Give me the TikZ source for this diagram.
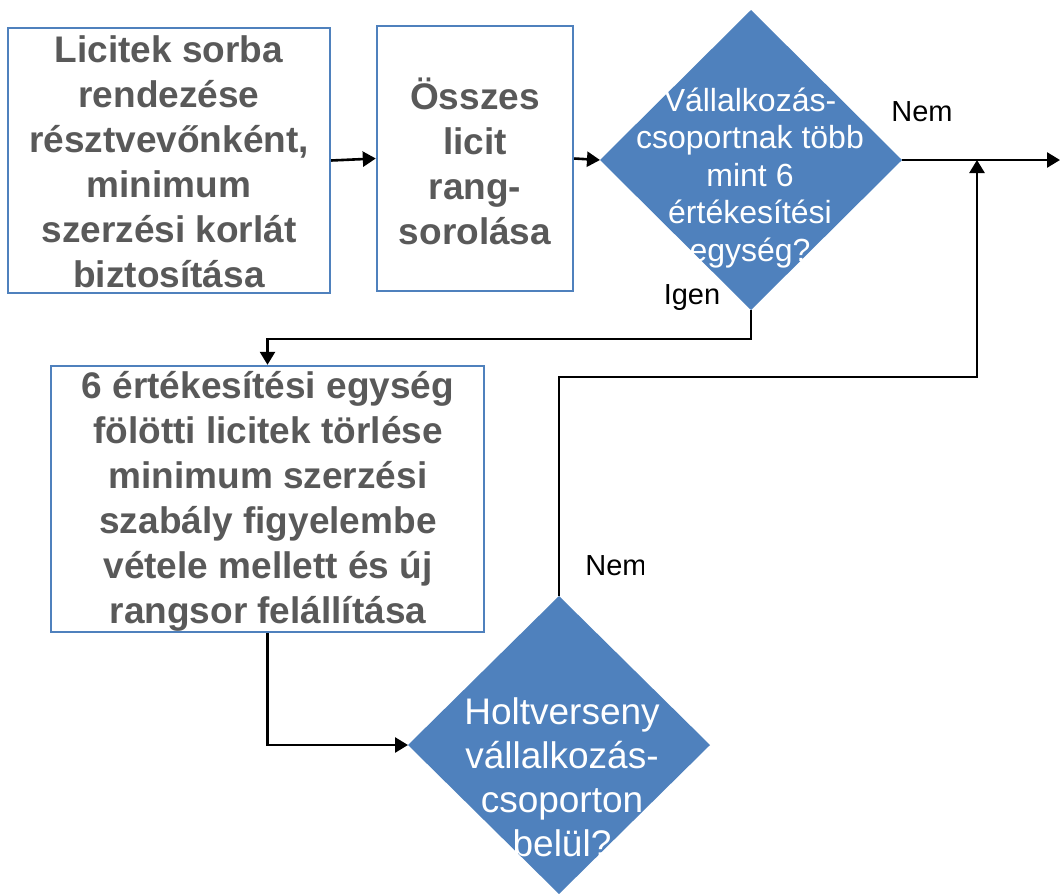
\documentclass[tikz,border=0pt]{standalone}
\usepackage{fontspec}
\setmainfont{Liberation Sans}
\usetikzlibrary{shapes.geometric,arrows.meta}
\definecolor{ablue}{HTML}{4F81BD}
\definecolor{agray}{HTML}{595959}
\begin{document}
\begin{tikzpicture}[x=1pt,y=-1pt,
  box/.style={draw=ablue, line width=2.4pt, rectangle, inner sep=0pt, fill=white},
  btext/.style={align=center, text=agray, inner sep=0pt, font=\fontsize{37}{45}\selectfont\bfseries},
  dia/.style={diamond, fill=ablue, draw=none, inner sep=0pt, outer sep=0pt},
  dtext/.style={align=center, text=white, inner sep=0pt},
  lbl/.style={inner sep=0pt, text=black, font=\fontsize{29}{34}\selectfont},
  conn/.style={draw=black, line width=2.6pt, -{Triangle[length=13pt,width=15pt]}}]
\useasboundingbox (0,0) rectangle (1060,894);
% boxes
\node[box, minimum width=322pt, minimum height=265pt] (b1) at (169,160.5) {};
\node[btext] (b1t) at (169,162) {Licitek sorba\\rendezése\\résztvevőnként,\\minimum\\szerzési korlát\\biztosítása};
\node[box, minimum width=196pt, minimum height=265pt] (b2) at (475,158.5) {};
\node[btext] (b2t) at (475,161) {Összes\\licit\\rang-\\sorolása};
\node[box, minimum width=433pt, minimum height=266pt] (b3) at (267.5,499) {};
\node[btext] (b3t) at (268,501) {6 értékesítési egység\\fölötti licitek törlése\\minimum szerzési\\szabály figyelembe\\vétele mellett és új\\rangsor felállítása};
% diamonds
\node[dia, minimum width=302pt, minimum height=300pt] (d1) at (751,160) {};
\node[dtext, font=\fontsize{32}{37.5}\selectfont] (d1t) at (750,178) {Vállalkozás-\\csoportnak több\\mint 6\\értékesítési\\egység?};
\node[dia, minimum width=302pt, minimum height=298pt] (d2) at (559,745) {};
\node[dtext, font=\fontsize{37}{44}\selectfont] (d2t) at (562,777) {Holtverseny\\vállalkozás-\\csoporton\\belül?};
% labels
\node[lbl] (nem1) at (922,112) {Nem};
\node[lbl] (igen) at (692,298) {Igen};
\begin{scope}
\clip (0,0) rectangle (643,894);
\node[lbl] (nem2) at (616,566) {Nem};
\end{scope}
% connectors
\coordinate (rend) at (1060,160);
\coordinate (join) at (977,160);
\draw[conn] (b1.east) -- (b2.west);
\draw[conn] (b2.east) -- (d1.west);
\draw[conn] (d1.east) -- (rend);
\draw[conn] (d1.south) -- ++(0,29) -| (b3.north);
\draw[conn] (b3.south) |- (d2.west);
\draw[conn] (d2.north) -- ++(0,-219) -| (join);
\end{tikzpicture}
\end{document}
